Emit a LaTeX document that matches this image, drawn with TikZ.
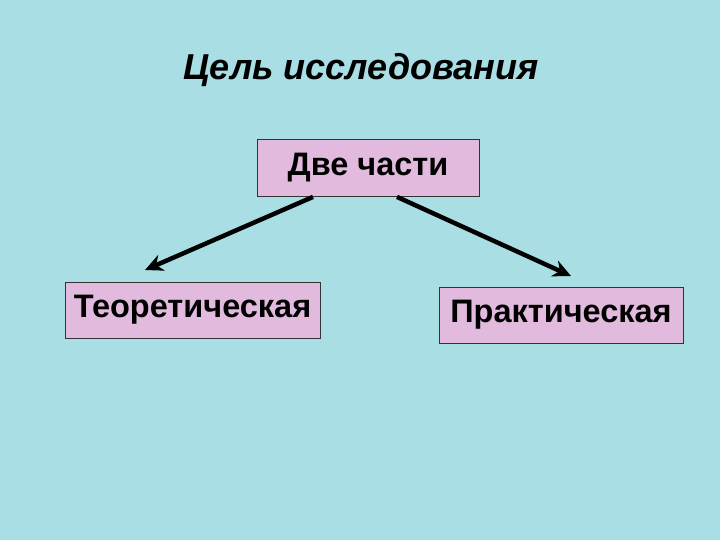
\documentclass[tikz,border=0pt]{standalone}
\usepackage{fontspec}
\setmainfont{Liberation Sans}
\usetikzlibrary{arrows.meta}

\definecolor{waterbg}{RGB}{168,222,228}
\definecolor{partfill}{RGB}{226,186,222}

\begin{document}
\begin{tikzpicture}[x=1pt,y=-1pt]
        \tikzset{part box/.style={draw=black!80, line width=0.8pt, fill=partfill,
                    inner sep=0pt, font=\fontsize{32.5}{38}\selectfont\bfseries},
                 link arrow/.style={line width=4.5pt, -{Stealth[length=18pt,width=17pt]}}}

        \fill[waterbg] (0,0) rectangle (720,540);

        \node[font=\fontsize{36}{42}\selectfont\bfseries\itshape] (title) at (361,70) {Цель исследования};

        \node[part box, minimum width=222pt, minimum height=57pt] (parts) at (368,168) {Две части};
        \node[part box, minimum width=255pt, minimum height=56pt] (theory) at (192.5,310) {Теоретическая};
        \node[part box, minimum width=244pt, minimum height=56pt] (practice) at (561,315) {Практическая};

        \coordinate (tipL) at (145,270);
        \coordinate (tipR) at (571,276);

        \draw[link arrow] ([xshift=-55pt]parts.south) -- (tipL);
        \draw[link arrow] ([xshift=29pt]parts.south) -- (tipR);
    \end{tikzpicture}
\end{document}
